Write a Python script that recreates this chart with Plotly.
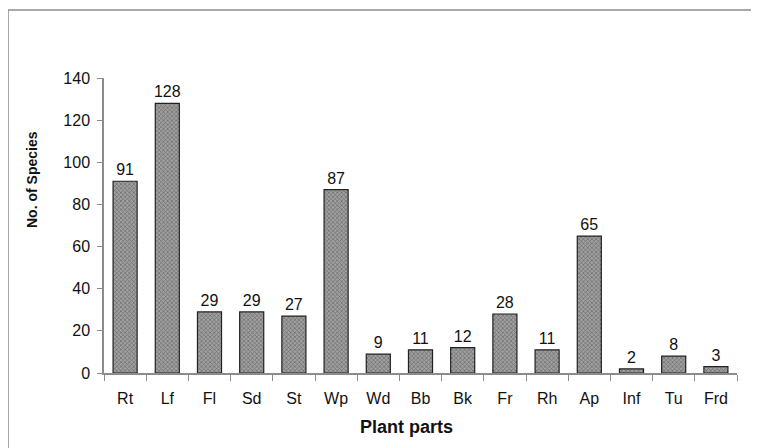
import plotly.graph_objects as go

categories = ["Rt", "Lf", "Fl", "Sd", "St", "Wp", "Wd", "Bb", "Bk", "Fr", "Rh", "Ap", "Inf", "Tu", "Frd"]
species = [91, 128, 29, 29, 27, 87, 9, 11, 12, 28, 11, 65, 2, 8, 3]
y_ticks = [0, 20, 40, 60, 80, 100, 120, 140]

FONT = "Liberation Sans, Arial, sans-serif"

# page body has an 8px margin; plot area target 104..737 x, 78..373 y in the window
OFF = 8
L, R, T, B = 104, 737, 78, 373
W, H = 759 - OFF, 448 - OFF


def px_x(x):
    return (x - L) / (R - L)


def px_y(y):
    return (B - y) / (B - T)


fig = go.Figure(go.Bar(
    x=categories, y=species,
    width=0.57,
    marker=dict(
        color="#8a8a8a",
        line=dict(color="#222222", width=1.2),
        pattern=dict(shape="x", size=3, solidity=0.4, fgcolor="#333333", bgcolor="#a0a0a0"),
    ),
    text=[str(v) for v in species],
    textposition="outside",
    constraintext="none",
    textfont=dict(family=FONT, size=16, color="#111111"),
    cliponaxis=False,
))

fig.update_layout(
    width=W, height=H,
    margin=dict(l=L - OFF, r=W + OFF - R, t=T - OFF, b=H + OFF - B),
    paper_bgcolor="white", plot_bgcolor="white",
    showlegend=False,
    font=dict(family=FONT, size=15, color="#111111"),
    xaxis=dict(
        type="category",
        showline=True, linecolor="#8c8c8c", linewidth=1.5,
        ticks="outside", tickson="boundaries", ticklen=6, tickcolor="#8c8c8c",
        ticklabelstandoff=10,
        showgrid=False,
        tickfont=dict(family=FONT, size=16, color="#111111"),
    ),
    yaxis=dict(
        range=[0, 140],
        tickvals=y_ticks,
        showline=True, linecolor="#8c8c8c", linewidth=1.5,
        ticks="outside", ticklen=5, tickcolor="#8c8c8c",
        ticklabelstandoff=4,
        showgrid=False, zeroline=False,
        tickfont=dict(family=FONT, size=16, color="#111111"),
    ),
    annotations=[
        dict(text="<b>Plant parts</b>", xref="paper", yref="paper",
             x=px_x(406), y=px_y(427), xanchor="center", yanchor="middle", showarrow=False,
             font=dict(family=FONT, size=18, color="#111111")),
        dict(text="<b>No. of Species</b>", xref="paper", yref="paper", textangle=-90,
             x=px_x(32), y=px_y(180), xanchor="center", yanchor="middle", showarrow=False,
             font=dict(family=FONT, size=14, color="#111111")),
    ],
    shapes=[
        dict(type="line", xref="paper", yref="paper", x0=px_x(8), x1=px_x(8), y0=px_y(460), y1=px_y(10),
             line=dict(color="#8c8c8c", width=1.5)),
        dict(type="line", xref="paper", yref="paper", x0=px_x(8), x1=px_x(770), y0=px_y(10), y1=px_y(10),
             line=dict(color="#8c8c8c", width=1.5)),
    ],
)

fig.write_html("out.html")
